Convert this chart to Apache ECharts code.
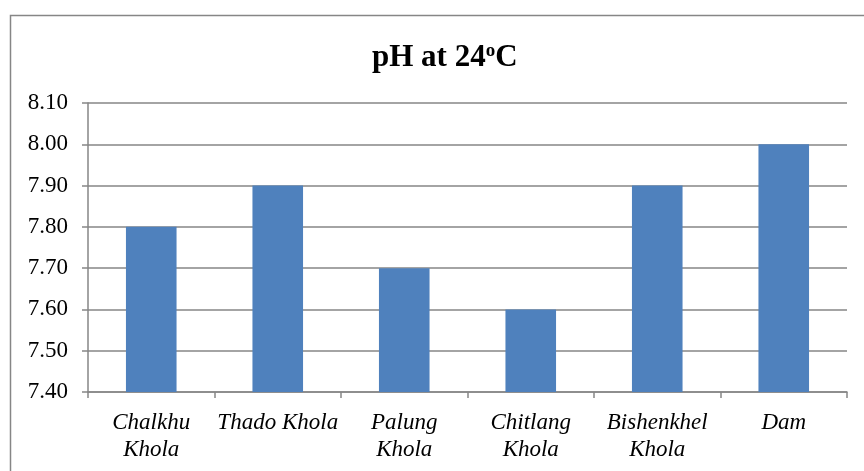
<!DOCTYPE html>
<html><head><meta charset="utf-8">
<script src="https://cdn.jsdelivr.net/npm/echarts@6/dist/echarts.min.js"></script>
<style>html,body{margin:0;padding:0;background:#fff}#c{width:864px;height:471px}</style>
</head><body><div id="c"></div>
<script>
const categories = ["Chalkhu\nKhola", "Thado Khola", "Palung\nKhola", "Chitlang\nKhola", "Bishenkhel\nKhola", "Dam"];
const phValues = [7.8, 7.9, 7.7, 7.6, 7.9, 8.0];
const yMin = 7.4, yMax = 8.1, yStep = 0.1;

const chart = echarts.init(document.getElementById('c'), null, {renderer: 'canvas'});
chart.setOption({
  animation: false,
  backgroundColor: '#fff',
  graphic: [{
    type: 'rect', left: 8, top: 13, silent: true,
    shape: {x: 0, y: 0, width: 900, height: 500},
    style: {fill: 'none', stroke: '#868686', lineWidth: 1.5}
  }],
  title: {
    text: 'pH at 24{sup|o}C',
    left: 367, top: 37,
    textStyle: {
      fontFamily: 'Liberation Serif', fontWeight: 'bold', fontSize: 31, color: '#000',
      rich: {
        sup: {fontFamily: 'Liberation Serif', fontWeight: 'bold', fontSize: 19, color: '#000', verticalAlign: 'top', padding: [0, 0, 10, 0]}
      }
    }
  },
  grid: {left: 88, right: 17, top: 103, bottom: 79},
  xAxis: {
    type: 'category', data: categories,
    axisLine: {lineStyle: {color: '#868686', width: 1.5}},
    axisTick: {show: true, length: 6, lineStyle: {color: '#868686', width: 1.5}},
    axisLabel: {fontFamily: 'Liberation Serif', fontStyle: 'italic', fontSize: 23, color: '#000', margin: 17, lineHeight: 27, interval: 0}
  },
  yAxis: {
    type: 'value', min: yMin, max: yMax, interval: yStep,
    axisLine: {show: true, lineStyle: {color: '#868686', width: 1.5}},
    axisTick: {show: true, length: 6, lineStyle: {color: '#868686', width: 1.5}},
    splitLine: {lineStyle: {color: '#868686', width: 1.5}},
    axisLabel: {fontFamily: 'Liberation Serif', fontSize: 23, color: '#000', margin: 20,
      formatter: v => v.toFixed(2)}
  },
  series: [{
    type: 'bar', data: phValues, barWidth: '40%',
    itemStyle: {color: '#4f81bd'}
  }]
});
</script></body></html>
